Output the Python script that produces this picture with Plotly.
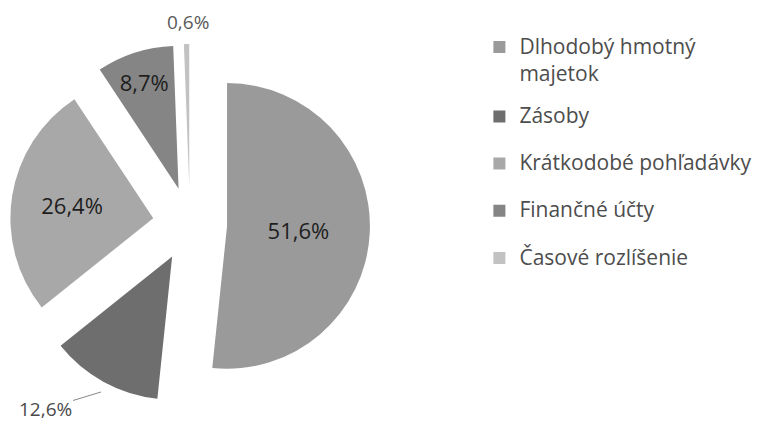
import plotly.graph_objects as go

labels = ["Dlhodobý hmotný<br>majetok", "Zásoby", "Krátkodobé pohľadávky", "Finančné účty", "Časové rozlíšenie"]
values = [51.6, 12.6, 26.4, 8.7, 0.6]
colors = ["#9a9a9a", "#6e6e6e", "#a8a8a8", "#858585", "#c2c2c2"]
positions = ["inside", "none", "inside", "inside", "none"]
pulls = [0.26, 0.26, 0.26, 0.26, 0.26]


def fmt(v):
    return f"{v:.1f}".replace(".", ",") + "%"


def legend_name(lab):
    parts = lab.split("<br>")
    out = "<span style='font-size:21px'>" + parts[0] + "</span>"
    for p in parts[1:]:
        out += "<br><span style='font-size:21px;baseline-shift:-5px'>" + p + "</span>"
    return out + "<br> "


legend_names = [legend_name(lab) for lab in labels]

fig = go.Figure(go.Pie(
    labels=legend_names,
    values=values,
    sort=False,
    direction="clockwise",
    rotation=0,
    pull=pulls,
    marker=dict(colors=colors, line=dict(width=0)),
    texttemplate="%{value:.1f}%",
    textposition=positions,
    insidetextorientation="horizontal",
    insidetextfont=dict(color="#1e1e1e", size=22, family="Open Sans"),
    domain=dict(x=[0.0023, 0.4722], y=[0.0594, 0.9145]),
    hoverinfo="skip",
))

# outside labels for the two small slices
fig.add_annotation(
    x=0.2347, y=0.9667, xref="paper", yref="paper",
    xanchor="center", yanchor="middle",
    text=fmt(values[4]), showarrow=False,
    font=dict(size=19, color="#5a5a5a", family="Open Sans"),
)
fig.add_annotation(
    x=0.1213, y=0.0879, xref="paper", yref="paper",
    text=fmt(values[1]), showarrow=True, arrowhead=0, arrowwidth=1, arrowcolor="#888888",
    ax=-56, ay=17, standoff=0,
    font=dict(size=19, color="#4a4a4a", family="Open Sans"),
)

fig.update_layout(
    width=767, height=421,
    margin=dict(l=0, r=0, t=0, b=0),
    paper_bgcolor="white",
    plot_bgcolor="white",
    separators=", ",
    font=dict(family="Open Sans", color="#444444"),
    showlegend=True,
    legend=dict(
        x=0.6146, y=0.9488, xanchor="left", yanchor="top",
        valign="top",
        font=dict(size=17, color="#4d4d4d", family="Open Sans"),
        itemwidth=30,
        traceorder="normal",
    ),
)

fig.write_html("out.html")
